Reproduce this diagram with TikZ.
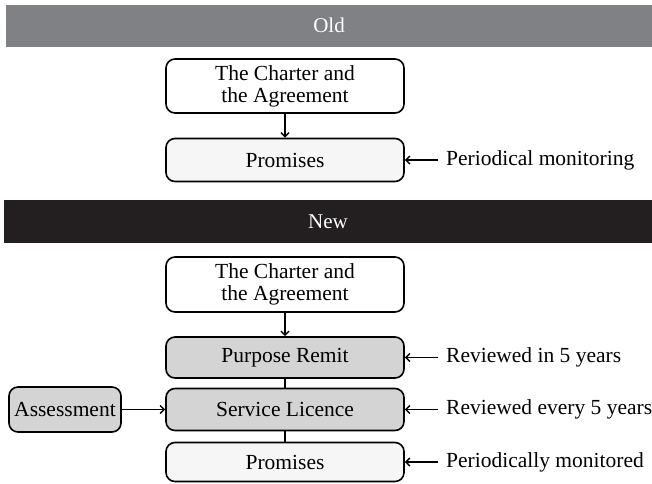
\documentclass[tikz,border=0pt]{standalone}
\usepackage{fontspec}
\setmainfont{Liberation Serif}
\usepackage{tikz}
\usetikzlibrary{positioning, arrows.meta, calc}
\definecolor{oldgray}{RGB}{128,129,132}
\definecolor{newblack}{RGB}{35,31,32}
\definecolor{midgray}{RGB}{212,212,212}
\definecolor{palegray}{RGB}{246,246,246}

\begin{document}
\begin{tikzpicture}[
    x=1pt, y=-1pt,
    bar/.style={minimum height=42pt, inner sep=0pt, text=white, font=\fontsize{21}{22}\selectfont},
    box/.style={draw, line width=1.6pt, rounded corners=9pt, minimum width=238pt, align=center, font=\fontsize{21.5}{22}\selectfont},
    note/.style={anchor=west, inner ysep=2pt, inner xsep=8pt, font=\fontsize{21.5}{22}\selectfont},
    arrow/.style={-{Straight Barb[length=4pt, width=8pt]}, line width=1.4pt}
]
\useasboundingbox (0,0) rectangle (652,483);

% Old scheme
\node[bar, fill=oldgray, minimum width=646pt] (old) at (329,25.5) {Old};
\node[box, fill=white, minimum height=54pt] (charterA) at (285,86) {The Charter and\\the Agreement};
\node[box, fill=palegray, minimum height=43pt] (promA) at (285,160) {Promises};
\node[note] (monA) at (438,160) {Periodical monitoring};
\draw[arrow] (charterA.south) -- (promA.north);
\draw[arrow] (monA.west) -- (promA.east);

% New scheme
\node[bar, fill=newblack, minimum width=648pt, minimum height=43pt] (new) at (328,221.5) {New};
\node[box, fill=white, minimum height=55pt] (charterB) at (285,284.5) {The Charter and\\the Agreement};
\node[box, fill=midgray, minimum height=41pt] (remit) at (285,357.5) {Purpose Remit};
\node[box, fill=midgray, minimum height=42pt] (licence) at (285,409.5) {Service Licence};
\node[box, fill=palegray, minimum height=39pt] (promB) at (285,462) {Promises};
\node[box, fill=midgray, minimum width=112pt, minimum height=45pt, inner sep=2pt] (assess) at (65,409.5) {Assessment};
\node[note] (revA) at (438,357.5) {Reviewed in 5 years};
\node[note] (revB) at (438,409.5) {Reviewed every 5 years};
\node[note] (monB) at (438,462) {Periodically monitored};

\draw[arrow] (charterB.south) -- (remit.north);
\draw[line width=1.4pt] (remit.south) -- (licence.north);
\draw[line width=1.4pt] (licence.south) -- (promB.north);
\draw[arrow] (assess.east) -- (licence.west);
\draw[arrow] (revA.west) -- (remit.east);
\draw[arrow] (revB.west) -- (licence.east);
\draw[arrow] (monB.west) -- (promB.east);
\end{tikzpicture}
\end{document}
